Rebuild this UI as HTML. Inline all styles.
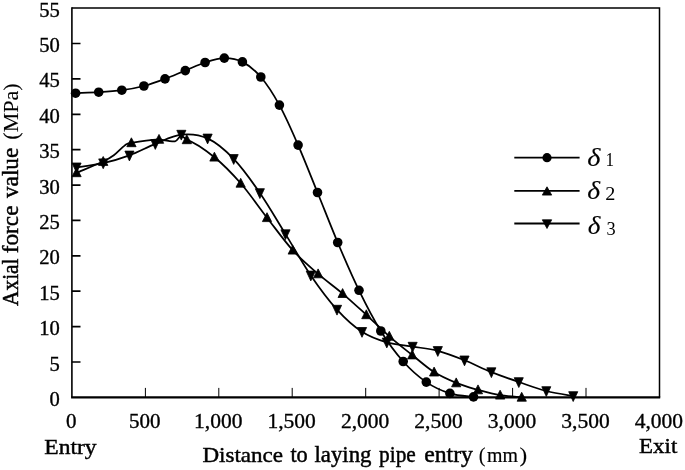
<!DOCTYPE html>
<html><head><meta charset="utf-8"><style>
html,body{margin:0;padding:0;background:#fff;}
body{width:685px;height:470px;position:relative;overflow:hidden;font-family:"Liberation Serif",serif;color:#111;}
svg text{font-family:"Liberation Serif",serif;}
</style></head><body>
<svg width="685" height="470" viewBox="0 0 685 470" style="position:absolute;left:0;top:0;display:block;will-change:transform">
<path d="M71.9,8.1 L659.5,8.1 L659.5,397.4" fill="none" stroke="#000" stroke-width="1.5"/>
<path d="M71.9,7.3 L71.9,397.4" fill="none" stroke="#000" stroke-width="1.6"/>
<path d="M71.1,397.4 L660.2,397.4" fill="none" stroke="#000" stroke-width="2.2"/>
<path d="M71.9,362.0 h8.6 M71.9,326.6 h8.6 M71.9,291.2 h8.6 M71.9,255.8 h8.6 M71.9,220.4 h8.6 M71.9,185.1 h8.6 M71.9,149.7 h8.6 M71.9,114.3 h8.6 M71.9,78.9 h8.6 M71.9,43.5 h8.6" stroke="#000" stroke-width="1.7" fill="none"/>
<path d="M145.4,397.4 v-9.5 M218.8,397.4 v-9.5 M292.2,397.4 v-9.5 M365.7,397.4 v-9.5 M439.1,397.4 v-9.5 M512.6,397.4 v-9.5 M586.0,397.4 v-9.5" stroke="#000" stroke-width="1.0" fill="none"/>
<g fill="none" stroke="#000" stroke-width="1.75" stroke-linejoin="round">
<path d="M75.6,93.2 C79.4,93.0 91.0,92.7 98.7,92.2 C106.4,91.7 114.3,91.2 121.8,90.2 C129.3,89.2 136.7,87.9 143.9,86.0 C151.1,84.1 158.1,81.5 165.0,78.9 C171.9,76.3 178.6,73.3 185.3,70.6 C192.0,67.9 198.6,64.6 205.1,62.5 C211.6,60.4 218.1,58.2 224.3,58.1 C230.5,58.0 236.3,58.8 242.4,61.9 C248.5,65.0 254.6,69.8 260.8,77.0 C267.0,84.2 273.2,93.8 279.4,105.1 C285.6,116.4 291.8,130.5 298.1,145.1 C304.5,159.7 310.9,176.3 317.5,192.5 C324.1,208.7 330.8,226.2 337.7,242.5 C344.6,258.8 351.8,275.6 359.0,290.3 C366.2,305.1 373.4,319.1 380.8,331.0 C388.2,342.9 395.6,353.0 403.2,361.5 C410.8,370.0 418.5,376.8 426.3,382.1 C434.1,387.4 442.0,390.9 449.9,393.4 C457.8,395.9 469.6,396.3 473.5,396.9"/>
<path d="M76.6,167.3 C81.0,166.6 94.4,165.2 103.2,163.2 C112.0,161.2 120.7,158.6 129.4,155.4 C138.1,152.2 146.7,147.4 155.3,143.9 C164.0,140.4 172.6,135.5 181.3,134.6 C190.0,133.7 198.9,134.3 207.6,138.4 C216.3,142.5 225.0,149.8 233.7,158.9 C242.4,168.0 251.3,180.5 259.9,193.0 C268.5,205.5 277.0,220.4 285.5,234.1 C294.0,247.8 302.2,262.8 310.8,275.4 C319.4,288.0 328.5,300.2 337.0,309.6 C345.5,319.0 353.7,326.3 362.0,331.8 C370.3,337.3 378.4,339.9 386.8,342.4 C395.2,344.9 404.1,345.2 412.6,346.6 C421.1,348.0 429.2,348.6 437.8,350.9 C446.4,353.2 455.6,356.8 464.5,360.3 C473.4,363.8 482.3,368.5 491.4,372.1 C500.4,375.7 509.6,378.9 518.8,382.0 C527.9,385.1 537.2,388.7 546.3,391.0 C555.4,393.3 568.7,395.2 573.2,396.0"/>
<path d="M76.6,172.8 C81.0,170.9 97.0,164.4 103.2,161.5 C109.4,158.6 110.2,158.0 113.8,155.3 C117.4,152.7 121.7,147.7 124.6,145.6 C127.5,143.5 125.7,143.8 131.4,142.8 C137.1,141.8 149.8,139.9 159.0,139.4 C165,140.3 171,141.6 175,141.3 C177.2,141 178.6,137.6 180.6,135.6 C183,136.4 185,138.2 186.8,139.8"/>
<path d="M186.8,139.8 C196.0,142.8 205.4,149.9 214.4,157.2 C223.4,164.4 231.9,173.2 240.7,183.3 C249.5,193.4 258.3,206.5 267.0,217.7 C275.7,228.8 284.2,240.8 292.7,250.2 C301.2,259.6 309.8,266.7 318.1,273.9 C326.4,281.1 334.6,286.8 342.6,293.6 C350.6,300.4 358.5,307.7 366.3,314.8 C374.1,321.9 381.7,329.6 389.3,336.3 C396.9,343.0 404.7,349.0 412.2,355.0 C419.7,361.0 426.8,367.5 434.1,372.1 C441.4,376.8 448.9,379.9 456.2,382.9 C463.5,385.9 470.7,387.8 478.0,389.9 C485.3,391.9 492.8,394.0 500.1,395.2 C507.4,396.4 518.1,396.9 521.7,397.3"/>
</g>
<g fill="#000"><circle cx="75.6" cy="93.2" r="4.8"/><circle cx="98.7" cy="92.2" r="4.8"/><circle cx="121.8" cy="90.2" r="4.8"/><circle cx="143.9" cy="86.0" r="4.8"/><circle cx="165.0" cy="78.9" r="4.8"/><circle cx="185.3" cy="70.6" r="4.8"/><circle cx="205.1" cy="62.5" r="4.8"/><circle cx="224.3" cy="58.1" r="4.8"/><circle cx="242.4" cy="61.9" r="4.8"/><circle cx="260.8" cy="77.0" r="4.8"/><circle cx="279.4" cy="105.1" r="4.8"/><circle cx="298.1" cy="145.1" r="4.8"/><circle cx="317.5" cy="192.5" r="4.8"/><circle cx="337.7" cy="242.5" r="4.8"/><circle cx="359.0" cy="290.3" r="4.8"/><circle cx="380.8" cy="331.0" r="4.8"/><circle cx="403.2" cy="361.5" r="4.8"/><circle cx="426.3" cy="382.1" r="4.8"/><circle cx="449.9" cy="393.4" r="4.8"/><circle cx="473.5" cy="396.9" r="4.8"/></g><g fill="#000" stroke="#000" stroke-width="0.8" stroke-linejoin="round"><path d="M76.6,167.8 L81.2,176.7 L71.9,176.7 Z"/><path d="M103.2,156.5 L107.9,165.4 L98.5,165.4 Z"/><path d="M131.4,137.8 L136.1,146.7 L126.8,146.7 Z"/><path d="M159.0,134.4 L163.7,143.3 L154.3,143.3 Z"/><path d="M186.8,134.8 L191.5,143.7 L182.2,143.7 Z"/><path d="M214.4,152.2 L219.1,161.1 L209.8,161.1 Z"/><path d="M240.7,178.3 L245.3,187.2 L236.0,187.2 Z"/><path d="M267.0,212.7 L271.6,221.6 L262.4,221.6 Z"/><path d="M292.7,245.2 L297.3,254.1 L288.1,254.1 Z"/><path d="M318.1,268.9 L322.8,277.8 L313.5,277.8 Z"/><path d="M342.6,288.6 L347.2,297.5 L338.0,297.5 Z"/><path d="M366.3,309.8 L370.9,318.7 L361.7,318.7 Z"/><path d="M389.3,331.3 L393.9,340.2 L384.7,340.2 Z"/><path d="M412.2,350.0 L416.8,358.9 L407.6,358.9 Z"/><path d="M434.1,367.1 L438.8,376.0 L429.5,376.0 Z"/><path d="M456.2,377.9 L460.8,386.8 L451.6,386.8 Z"/><path d="M478.0,384.9 L482.6,393.8 L473.4,393.8 Z"/><path d="M500.1,390.2 L504.8,399.1 L495.5,399.1 Z"/><path d="M521.7,392.3 L526.4,401.2 L517.1,401.2 Z"/><path d="M76.6,172.8 L81.1,163.0 L72.0,163.0 Z"/><path d="M103.2,168.7 L107.8,158.9 L98.7,158.9 Z"/><path d="M129.4,160.9 L134.0,151.1 L124.9,151.1 Z"/><path d="M155.3,149.4 L159.9,139.6 L150.8,139.6 Z"/><path d="M181.3,140.1 L185.9,130.3 L176.8,130.3 Z"/><path d="M207.6,143.9 L212.2,134.1 L203.0,134.1 Z"/><path d="M233.7,164.4 L238.2,154.6 L229.1,154.6 Z"/><path d="M259.9,198.5 L264.4,188.7 L255.3,188.7 Z"/><path d="M285.5,239.6 L290.1,229.8 L280.9,229.8 Z"/><path d="M310.8,280.9 L315.4,271.1 L306.2,271.1 Z"/><path d="M337.0,315.1 L341.6,305.3 L332.4,305.3 Z"/><path d="M362.0,337.3 L366.6,327.5 L357.4,327.5 Z"/><path d="M386.8,347.9 L391.4,338.1 L382.2,338.1 Z"/><path d="M412.6,352.1 L417.2,342.3 L408.1,342.3 Z"/><path d="M437.8,356.4 L442.4,346.6 L433.2,346.6 Z"/><path d="M464.5,365.8 L469.1,356.0 L459.9,356.0 Z"/><path d="M491.4,377.6 L495.9,367.8 L486.8,367.8 Z"/><path d="M518.8,387.5 L523.3,377.7 L514.2,377.7 Z"/><path d="M546.3,396.5 L550.8,386.7 L541.8,386.7 Z"/><path d="M573.2,401.5 L577.8,391.7 L568.7,391.7 Z"/></g>
<path d="M514.3,157.7 H579.6 M514.3,190.8 H579.6 M514.3,223.5 H579.6" stroke="#000" stroke-width="1.8" fill="none"/>
<g fill="#000"><circle cx="547.0" cy="157.7" r="4.6"/></g><g fill="#000" stroke="#000" stroke-width="0.8" stroke-linejoin="round"><path d="M547.0,186.8 L551.7,195.1 L542.3,195.1 Z"/><path d="M547.0,228.5 L551.7,219.8 L542.3,219.8 Z"/></g>
<g fill="#000" font-family="'Liberation Serif', serif">
<text transform="translate(44.31,453.50) scale(1.1768,1.1000)" font-size="20" stroke="#000" stroke-width="0.40">Entry</text>
<text transform="translate(639.03,453.20) scale(1.1473,1.1000)" font-size="20" stroke="#000" stroke-width="0.40">Exit</text>
<text transform="translate(202.42,461.80) scale(1.1527,1.1000)" font-size="20" stroke="#000" stroke-width="0.40">Distance</text>
<text transform="translate(290.39,461.80) scale(1.1181,1.1440)" font-size="20" stroke="#000" stroke-width="0.40">to</text>
<text transform="translate(314.44,461.80) scale(1.1422,1.1440)" font-size="20" stroke="#000" stroke-width="0.40">laying</text>
<text transform="translate(379.08,461.80) scale(1.0671,1.1440)" font-size="20" stroke="#000" stroke-width="0.40">pipe</text>
<text transform="translate(424.17,461.80) scale(1.1858,1.1440)" font-size="20" stroke="#000" stroke-width="0.40">entry</text>
<text transform="translate(478.78,461.80) scale(1.0189,1.1000)" font-size="20" stroke="#000" stroke-width="0.10">(</text>
<text transform="translate(486.90,461.80) scale(0.9949,1.0300)" font-size="20" stroke="#000" stroke-width="0.20">mm</text>
<text transform="translate(519.51,461.80) scale(1.1538,1.1000)" font-size="20" stroke="#000" stroke-width="0.10">)</text>
<text transform="translate(17.90,306.01) rotate(-90) scale(1.0710,1.1800)" font-size="20" stroke="#000" stroke-width="0.40">Axial</text>
<text transform="translate(17.90,253.20) rotate(-90) scale(1.1609,1.1800)" font-size="20" stroke="#000" stroke-width="0.40">force</text>
<text transform="translate(17.90,198.00) rotate(-90) scale(1.1611,1.1800)" font-size="20" stroke="#000" stroke-width="0.40">value</text>
<text transform="translate(17.60,139.68) rotate(-90) scale(1.1023,1.0400)" font-size="20" stroke="#000" stroke-width="0.10">(MPa)</text>
<text transform="translate(587.19,165.80) scale(1.1813,1.0072)" font-size="24" font-style="italic" stroke="#000" stroke-width="0.10">δ</text>
<text transform="translate(587.21,198.90) scale(1.1538,1.0072)" font-size="24" font-style="italic" stroke="#000" stroke-width="0.10">δ</text>
<text transform="translate(587.82,234.20) scale(1.1355,1.0072)" font-size="24" font-style="italic" stroke="#000" stroke-width="0.10">δ</text>
<text transform="translate(605.44,166.20) scale(0.9441,1.0000)" font-size="18.2">1</text>
<text transform="translate(605.19,200.30) scale(1.1125,1.0000)" font-size="18.2">2</text>
<text transform="translate(606.38,234.80) scale(1.0073,1.0000)" font-size="18.2">3</text>
<text x="59.8" y="405.90" text-anchor="end" font-size="20.6" stroke="#000" stroke-width="0.35">0</text>
<text x="59.8" y="370.51" text-anchor="end" font-size="20.6" stroke="#000" stroke-width="0.35">5</text>
<text x="59.8" y="335.12" text-anchor="end" font-size="20.6" stroke="#000" stroke-width="0.35">10</text>
<text x="59.8" y="299.73" text-anchor="end" font-size="20.6" stroke="#000" stroke-width="0.35">15</text>
<text x="59.8" y="264.34" text-anchor="end" font-size="20.6" stroke="#000" stroke-width="0.35">20</text>
<text x="59.8" y="228.95" text-anchor="end" font-size="20.6" stroke="#000" stroke-width="0.35">25</text>
<text x="59.8" y="193.55" text-anchor="end" font-size="20.6" stroke="#000" stroke-width="0.35">30</text>
<text x="59.8" y="158.16" text-anchor="end" font-size="20.6" stroke="#000" stroke-width="0.35">35</text>
<text x="59.8" y="122.77" text-anchor="end" font-size="20.6" stroke="#000" stroke-width="0.35">40</text>
<text x="59.8" y="87.38" text-anchor="end" font-size="20.6" stroke="#000" stroke-width="0.35">45</text>
<text x="59.8" y="51.99" text-anchor="end" font-size="20.6" stroke="#000" stroke-width="0.35">50</text>
<text x="59.8" y="16.60" text-anchor="end" font-size="20.6" stroke="#000" stroke-width="0.35">55</text>
<text transform="translate(71.30,427.6) scale(1.020,1)" text-anchor="middle" font-size="20.6" stroke="#000" stroke-width="0.35">0</text>
<text transform="translate(144.75,427.6) scale(1.020,1)" text-anchor="middle" font-size="20.6" stroke="#000" stroke-width="0.35">500</text>
<text transform="translate(218.20,427.6) scale(1.045,1)" text-anchor="middle" font-size="20.6" stroke="#000" stroke-width="0.35">1,000</text>
<text transform="translate(291.65,427.6) scale(1.045,1)" text-anchor="middle" font-size="20.6" stroke="#000" stroke-width="0.35">1,500</text>
<text transform="translate(365.10,427.6) scale(1.045,1)" text-anchor="middle" font-size="20.6" stroke="#000" stroke-width="0.35">2,000</text>
<text transform="translate(438.55,427.6) scale(1.045,1)" text-anchor="middle" font-size="20.6" stroke="#000" stroke-width="0.35">2,500</text>
<text transform="translate(512.00,427.6) scale(1.045,1)" text-anchor="middle" font-size="20.6" stroke="#000" stroke-width="0.35">3,000</text>
<text transform="translate(585.45,427.6) scale(1.045,1)" text-anchor="middle" font-size="20.6" stroke="#000" stroke-width="0.35">3,500</text>
<text transform="translate(658.90,427.6) scale(1.045,1)" text-anchor="middle" font-size="20.6" stroke="#000" stroke-width="0.35">4,000</text>
</g>
</svg>
</body></html>
